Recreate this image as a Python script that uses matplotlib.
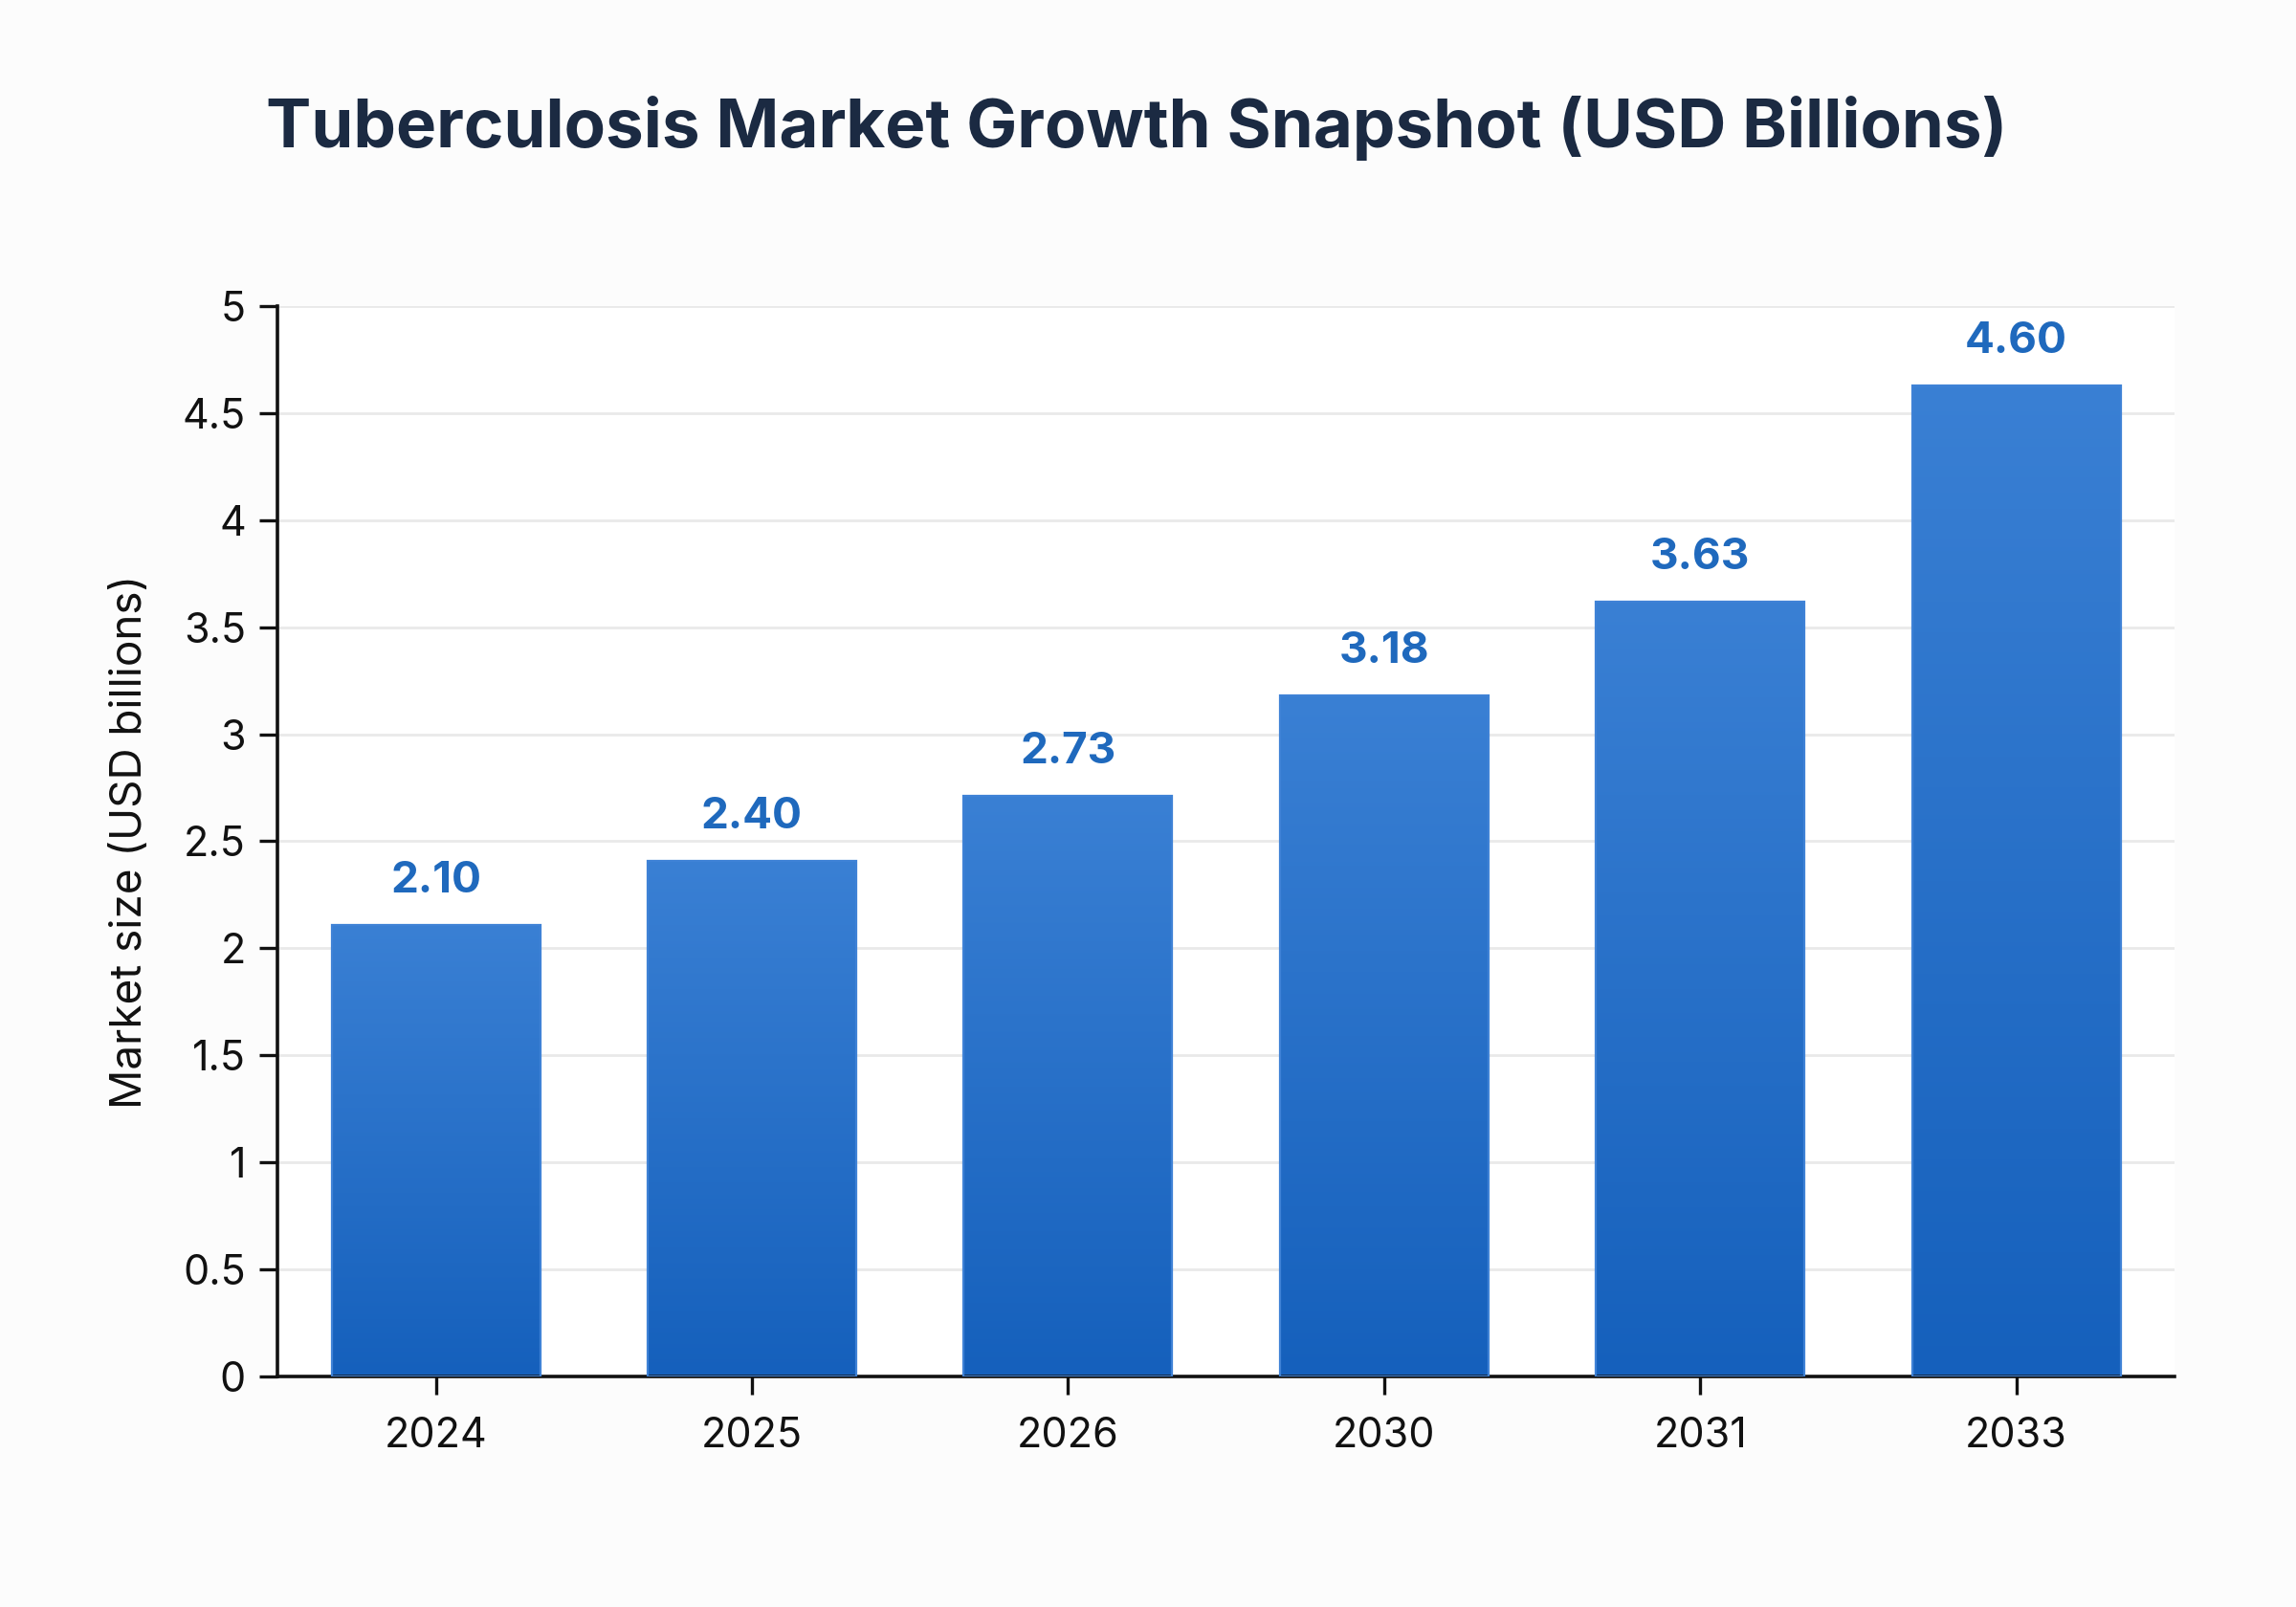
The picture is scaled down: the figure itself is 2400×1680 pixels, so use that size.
import numpy as np
import matplotlib
matplotlib.use("Agg")
import matplotlib.pyplot as plt
from matplotlib.colors import LinearSegmentedColormap

# chart data
years = ["2024", "2025", "2026", "2030", "2031", "2033"]
market_size = [2.11, 2.41, 2.71, 3.18, 3.62, 4.63]
value_labels = ["2.10", "2.40", "2.73", "3.18", "3.63", "4.60"]
y_ticks = [0, 0.5, 1, 1.5, 2, 2.5, 3, 3.5, 4, 4.5, 5]
y_tick_labels = ["0", "0.5", "1", "1.5", "2", "2.5", "3", "3.5", "4", "4.5", "5"]

plt.rcParams['font.family'] = ['Inter', 'DejaVu Sans']

fig = plt.figure(figsize=(12, 8.4), dpi=200, facecolor="#fcfcfc")
ax = fig.add_axes([0.121, 0.1435, 0.826, 0.666])
ax.set_facecolor("#ffffff")

x = np.arange(len(years))
bars = ax.bar(x, market_size, width=0.66, facecolor="none",
              edgecolor="#3f82d6", linewidth=0.8, zorder=3)

# vertical gradient in each bar, lighter at top
grad_cmap = LinearSegmentedColormap.from_list("bar_grad", ["#1560bc", "#3a80d4"])
gradient = np.linspace(0, 1, 256).reshape(-1, 1)
for b in bars:
    x0, w, h = b.get_x(), b.get_width(), b.get_height()
    ax.imshow(gradient, cmap=grad_cmap, aspect="auto", origin="lower",
              extent=(x0, x0 + w, 0, h), zorder=2)

# value labels
for xi, h, lab in zip(x, market_size, value_labels):
    ax.annotate(lab, (xi, h), xytext=(0, 9), textcoords="offset points",
                ha="center", va="bottom", fontsize=16.5, fontweight="bold",
                color="#1f69bd")

ax.set_xlim(-0.5, len(years) - 0.5)
ax.set_ylim(0, 5)
ax.set_xticks(x)
ax.set_xticklabels(years, fontsize=15.5)
ax.set_yticks(y_ticks)
ax.set_yticklabels(y_tick_labels, fontsize=15.5)
ax.tick_params(axis="both", length=7, width=1.2, color="#111111", labelcolor="#111111")
ax.tick_params(axis="x", pad=8)
ax.tick_params(axis="y", pad=5)

ax.grid(axis="y", color="#e9e9e9", linewidth=1.0, zorder=0)
ax.set_axisbelow(True)
for side in ["top", "right"]:
    ax.spines[side].set_visible(False)
for side in ["left", "bottom"]:
    ax.spines[side].set_linewidth(1.3)
    ax.spines[side].set_color("#111111")

ax.set_ylabel("Market size (USD billions)", fontsize=16.5, color="#111111", labelpad=12)

fig.text(0.495, 0.92, "Tuberculosis Market Growth Snapshot (USD Billions)",
         ha="center", va="center", fontsize=25.5, fontweight="bold", color="#1b2a42")

fig.savefig("out.png", dpi=200, facecolor=fig.get_facecolor())
